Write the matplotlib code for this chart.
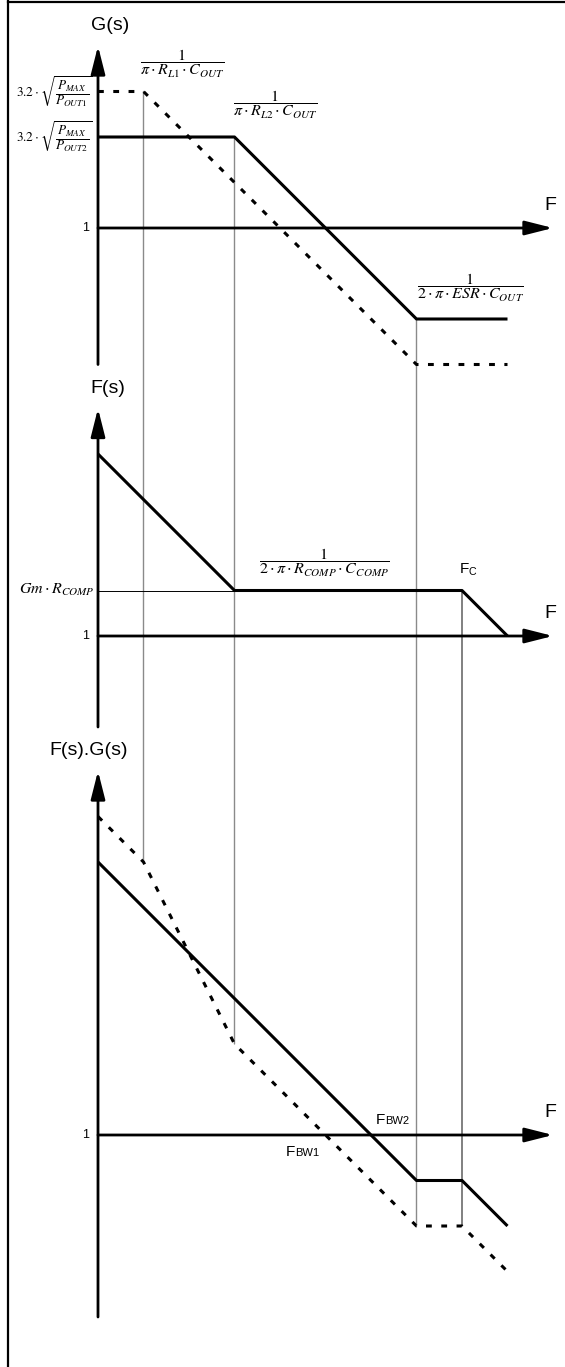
import matplotlib
matplotlib.use('Agg')
import matplotlib.pyplot as plt
from matplotlib.lines import Line2D
from matplotlib.patches import ConnectionPatch

plt.rcParams['font.family'] = ['Liberation Sans', 'DejaVu Sans']
plt.rcParams['mathtext.fontset'] = 'stix'

# --- asymptotic bode data (x = log freq units, y = log gain units, 0 = unity) ---
g_x = [0, 3, 7, 9]            # G(s), R_L2 (solid)
g_y = [2, 2, -2, -2]
g1_x = [0, 1, 7, 9]           # G(s), R_L1 (dotted)
g1_y = [3, 3, -3, -3]
f_x = [0, 3, 8, 9]            # F(s)
f_y = [4, 1, 1, 0]
fg_x = [0, 7, 8, 9]           # F(s).G(s) solid
fg_y = [6, -1, -1, -2]
fg1_x = [0, 1, 3, 7, 8, 9]    # F(s).G(s) dotted
fg1_y = [7, 6, 2, -2, -2, -3]

corner_x = [1, 3, 7]          # grey guides through all panels
top_from = [3, 2, -2]         # where they start in G(s) panel
bot_to = [6, 2, -2]           # where they stop in F.G panel
fc_x = 8
fc_bot = -2

# --- layout ---
W, H = 565, 1367
U = 45.5     # px per unit
X0 = 98      # px of y axis
fig = plt.figure(figsize=(W / 100, H / 100), dpi=100)

def panel(a, b, unity):
    ax = fig.add_axes([0, 1 - b / H, 1, (b - a) / H])
    ax.set_xlim(-X0 / U, (W - X0) / U)
    ax.set_ylim(-(b - unity) / U, (unity - a) / U)
    ax.axis('off')
    return ax

ax1 = panel(0, 376, 228)
ax2 = panel(376, 739, 636)
ax3 = panel(739, H, 1135)

LW = 2.2
DOT = (0, (1.9, 3.1))
ARW = dict(arrowstyle='-|>,head_length=1.7,head_width=0.43', mutation_scale=10,
           lw=2.0, color='k', shrinkA=0, shrinkB=0)
GREY = '#8a8a8a'

def axes_arrows(ax, ybot, ytop):
    ax.annotate('', xy=(0, ytop), xytext=(0, ybot), arrowprops=ARW)
    ax.annotate('', xy=(10, 0), xytext=(0, 0), arrowprops=ARW)
    ax.text(-0.2, 0, '1', ha='right', va='center', fontsize=9)
    ax.text(9.95, 0.5, 'F', ha='center', va='center', fontsize=14)

# guides, one line each from the G(s) panel down to the F.G panel
for x, y0, y1 in zip(corner_x, top_from, bot_to):
    fig.add_artist(ConnectionPatch(xyA=(x, y0), coordsA=ax1.transData,
                                   xyB=(x, y1), coordsB=ax3.transData,
                                   color=GREY, lw=1.0, zorder=0))
fig.add_artist(ConnectionPatch(xyA=(fc_x, f_y[2]), coordsA=ax2.transData,
                               xyB=(fc_x, fc_bot), coordsB=ax3.transData,
                               color='k', lw=0.7, zorder=0))
ax2.plot([0, f_x[1]], [f_y[1], f_y[1]], color='k', lw=0.7)

# G(s)
axes_arrows(ax1, -3, 4)
ax1.plot(g_x, g_y, color='k', lw=LW, solid_capstyle='butt')
ax1.plot(g1_x, g1_y, color='k', lw=LW, linestyle=DOT)
ax1.text(0.26, 4.45, 'G(s)', ha='center', va='center', fontsize=14)
ax1.text(-0.12, 3, r'$3.2\cdot\sqrt{\dfrac{P_{MAX}}{P_{OUT1}}}$', ha='right', va='center', fontsize=9.5)
ax1.text(-0.12, 2, r'$3.2\cdot\sqrt{\dfrac{P_{MAX}}{P_{OUT2}}}$', ha='right', va='center', fontsize=9.5)
ax1.text(1.85, 3.6, r'$\dfrac{1}{\pi\cdot R_{L1}\cdot C_{OUT}}$', ha='center', va='center', fontsize=11.5)
ax1.text(3.89, 2.7, r'$\dfrac{1}{\pi\cdot R_{L2}\cdot C_{OUT}}$', ha='center', va='center', fontsize=11.5)
ax1.text(8.18, -1.32, r'$\dfrac{1}{2\cdot\pi\cdot ESR\cdot C_{OUT}}$', ha='center', va='center', fontsize=11.5)

# F(s)
axes_arrows(ax2, -2, 5)
ax2.plot(f_x, f_y, color='k', lw=LW, solid_capstyle='butt')
ax2.text(0.22, 5.45, 'F(s)', ha='center', va='center', fontsize=14)
ax2.text(-0.08, 1.02, r'$Gm\cdot R_{COMP}$', ha='right', va='center', fontsize=11.5)
ax2.text(4.97, 1.6, r'$\dfrac{1}{2\cdot\pi\cdot R_{COMP}\cdot C_{COMP}}$', ha='center', va='center', fontsize=11.5)
ax2.text(8.13, 1.45, r'F$_{\mathregular{C}}$', ha='center', va='center', fontsize=11)

# F(s).G(s)
axes_arrows(ax3, -4, 8)
ax3.plot(fg_x, fg_y, color='k', lw=LW, solid_capstyle='butt')
ax3.plot(fg1_x, fg1_y, color='k', lw=LW, linestyle=DOT)
ax3.text(-0.2, 8.46, 'F(s).G(s)', ha='center', va='center', fontsize=14)
ax3.text(6.31, 0.33, 'F', ha='right', va='center', fontsize=11)
ax3.text(6.31, 0.30, 'BW2', ha='left', va='center', fontsize=8)
ax3.text(4.33, -0.37, 'F', ha='right', va='center', fontsize=11)
ax3.text(4.33, -0.40, 'BW1', ha='left', va='center', fontsize=8)

# frame (left and top only)
fig.add_artist(Line2D([8 / W, 8 / W], [0, 1], transform=fig.transFigure, color='k', lw=1.6))
fig.add_artist(Line2D([8 / W, 1], [1 - 2 / H, 1 - 2 / H], transform=fig.transFigure, color='k', lw=1.6))

fig.savefig('out.png', dpi=100, facecolor='white')
